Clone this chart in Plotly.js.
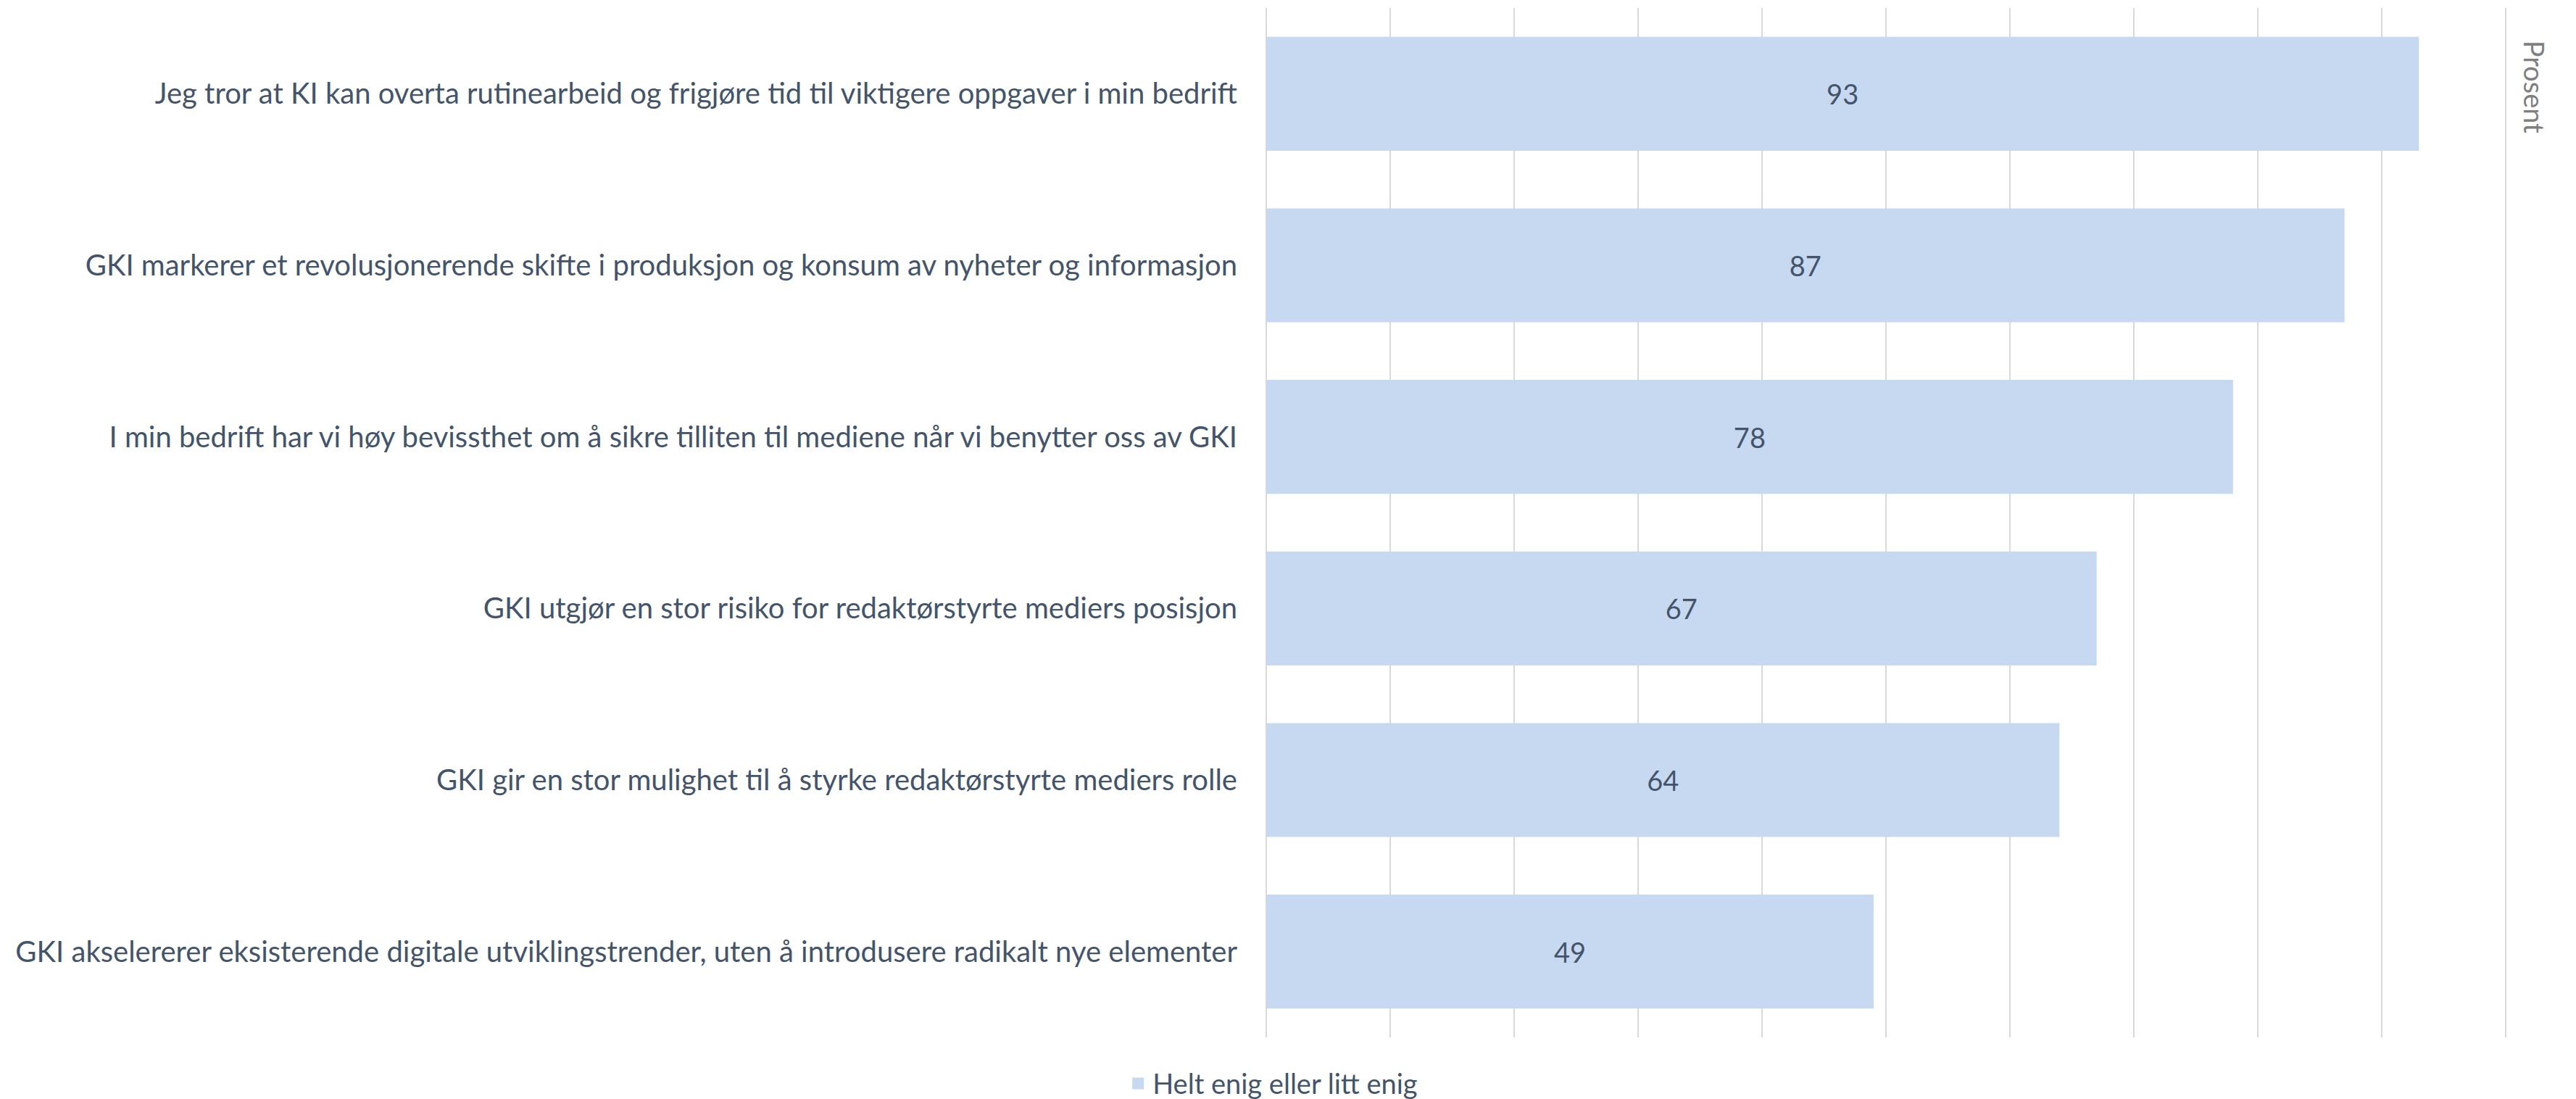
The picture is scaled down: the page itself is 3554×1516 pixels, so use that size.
<!DOCTYPE html>
<html>
<head>
<meta charset="utf-8">
<script src="https://cdn.plot.ly/plotly-3.0.1.min.js"></script>
<style>
html,body{margin:0;padding:0;background:#fff;}
#chart{width:3554px;height:1516px;}
</style>
</head>
<body>
<div id="chart"></div>
<script>
const categories = [
  "Jeg tror at KI kan overta rutinearbeid og frigjøre tid til viktigere oppgaver i min bedrift",
  "GKI markerer et revolusjonerende skifte i produksjon og konsum av nyheter og informasjon",
  "I min bedrift har vi høy bevissthet om å sikre tilliten til mediene når vi benytter oss av GKI",
  "GKI utgjør en stor risiko for redaktørstyrte mediers posisjon",
  "GKI gir en stor mulighet til å styrke redaktørstyrte mediers rolle",
  "GKI akselererer eksisterende digitale utviklingstrender, uten å introdusere radikalt nye elementer"
];
const values = [93, 87, 78, 67, 64, 49];
const seriesName = "Helt enig eller litt enig";
const axisTitle = "Prosent";

const textColor = "#44546A";
const barColor = "#C6D9F0";
const fontFam = "Lato, 'Open Sans', sans-serif";

const trace = {
  type: "bar",
  orientation: "h",
  x: values,
  y: categories,
  name: seriesName,
  marker: {color: barColor},
  width: 0.664,
  text: values.map(String),
  textposition: "inside",
  insidetextanchor: "middle",
  constraintext: "none",
  textfont: {family: fontFam, size: 38, color: textColor},
  hoverinfo: "skip",
  showlegend: false
};

const legendTrace = {
  type: "scatter",
  mode: "markers",
  x: [null],
  y: [null],
  name: seriesName,
  marker: {color: barColor, symbol: "square", size: 16},
  hoverinfo: "skip",
  showlegend: true
};

const layout = {
  width: 3554,
  height: 1516,
  paper_bgcolor: "#ffffff",
  plot_bgcolor: "#ffffff",
  margin: {l: 1746, r: 96, t: 11, b: 85, pad: 0},
  font: {family: fontFam, size: 40, color: textColor},
  xaxis: {
    range: [-0.06, 100.06],
    dtick: 10,
    tick0: 0,
    showgrid: true,
    gridcolor: "#D9D9D9",
    gridwidth: 2,
    zeroline: false,
    showticklabels: false,
    ticks: "",
    showline: false,
    fixedrange: true
  },
  yaxis: {
    autorange: "reversed",
    ticks: "",
    showgrid: false,
    zeroline: false,
    showline: false,
    ticklabelstandoff: 38,
    tickfont: {family: fontFam, size: 40, color: textColor},
    fixedrange: true
  },
  showlegend: true,
  legend: {
    orientation: "h",
    xref: "container",
    yref: "container",
    x: 0.494,
    xanchor: "center",
    y: 0.014,
    yanchor: "middle",
    font: {family: fontFam, size: 38, color: textColor},
    itemwidth: 30
  },
  annotations: [{
    text: axisTitle,
    xref: "paper",
    yref: "paper",
    x: 1.023,
    y: 0.970,
    xanchor: "center",
    yanchor: "top",
    textangle: 90,
    showarrow: false,
    font: {family: fontFam, size: 38, color: "#7F7F7F"}
  }]
};

Plotly.newPlot("chart", [trace, legendTrace], layout, {displayModeBar: false, staticPlot: true});
</script>
</body>
</html>
